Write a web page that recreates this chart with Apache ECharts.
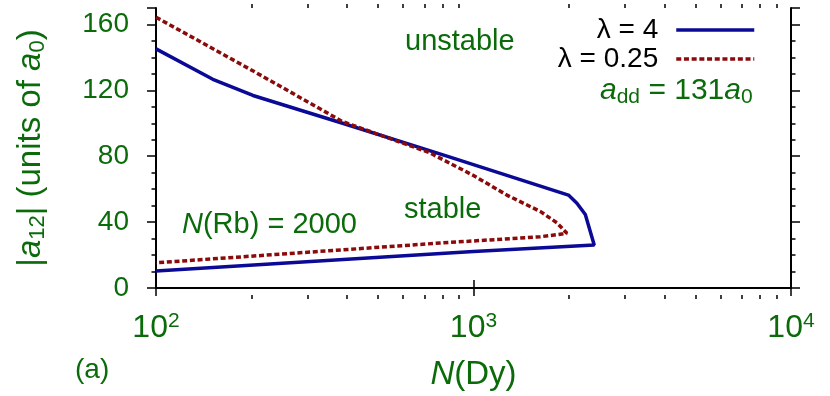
<!DOCTYPE html>
<html>
<head>
<meta charset="utf-8">
<script src="https://cdn.jsdelivr.net/npm/echarts@6/dist/echarts.min.js"></script>
<style>
  html, body { margin: 0; padding: 0; background: #fff; }
  #chart { width: 830px; height: 396px; }
</style>
</head>
<body>
<div id="chart"></div>
<script>
// λ = 4 : [N(Dy), |a12|]
const lambda4 = [
  [100, 145.2], [151, 126.7], [202, 116.9], [387, 100], [820, 80.2],
  [1991, 56.4], [2117, 51.5], [2250, 44.6], [2400, 26.1],
  [1000, 22.1], [100, 10.3]
]
// λ = 0.25
const lambda025 = [
  [100, 164.4], [207, 130.7], [387, 101], [726, 82.2], [1000, 68.3],
  [1274, 56.4], [1622, 46.5], [1831, 39.6], [1969, 33.2], [1945, 32.0],
  [1622, 31.1], [785, 27.3], [100, 15.3]
]
const xMinorTicks = [200, 300, 400, 500, 600, 700, 800, 900,
  2000, 3000, 4000, 5000, 6000, 7000, 8000, 9000]
const yTicks = { min: 0, max: 170, interval: 40 }

const green = '#0b6b0b'
const blue = '#0a0a96'
const red = '#8b0a0a'
const font = 'Liberation Sans, Arial, sans-serif'

const chart = echarts.init(document.getElementById('chart'))

const logBase = { type: 'log', logBase: 10, min: 100, max: 10000, splitLine: { show: false } }
const lineBlack = { color: '#000', width: 2 }
const tickBlack = { color: '#000', width: 1.5 }

const legendBase = {
  right: 74, align: 'right', padding: 0,
  itemWidth: 78, itemHeight: 14,
  itemStyle: { opacity: 0 },
  lineStyle: { width: 3.5 },
  textStyle: { fontFamily: font, fontSize: 28, color: '#000', padding: [0, 13, 0, 0] }
}

chart.setOption({
  animation: false,
  grid: [
    { left: 156, right: 39, top: 8, bottom: 101 },
    { left: 156, right: 39, top: 8, bottom: 101 }
  ],
  legend: [
    { ...legendBase, data: ['λ = 4'], top: 16 },
    { ...legendBase, data: ['λ = 0.25'], top: 45 }
  ],
  xAxis: [
    {
      ...logBase, gridIndex: 0, position: 'bottom',
      axisLine: { lineStyle: lineBlack },
      axisTick: { length: 8, lineStyle: tickBlack },
      axisLabel: {
        margin: 23,
        formatter: (v) => '10{s|' + Math.round(Math.log10(v)) + '}',
        fontFamily: font, fontSize: 32, color: green,
        rich: { s: { fontFamily: font, fontSize: 21, color: green, verticalAlign: 'top', padding: [0, 0, 14, 0] } }
      },
      name: '{i|N}(Dy)', nameLocation: 'middle', nameGap: 70,
      nameTextStyle: {
        fontFamily: font, fontSize: 33, color: green,
        rich: { i: { fontFamily: font, fontSize: 33, fontStyle: 'italic', color: green } }
      }
    },
    {
      ...logBase, gridIndex: 0, position: 'top',
      axisLine: { lineStyle: lineBlack },
      axisTick: { length: 8, lineStyle: tickBlack },
      axisLabel: { show: false }
    },
    {
      ...logBase, gridIndex: 1, position: 'bottom',
      axisLine: { show: false },
      axisTick: { length: 4, customValues: xMinorTicks, lineStyle: tickBlack },
      axisLabel: { show: false }
    },
    {
      ...logBase, gridIndex: 1, position: 'top',
      axisLine: { show: false },
      axisTick: { length: 4, customValues: xMinorTicks, lineStyle: tickBlack },
      axisLabel: { show: false }
    }
  ],
  yAxis: [
    {
      type: 'value', gridIndex: 0, position: 'left', ...yTicks,
      splitLine: { show: false },
      axisLine: { show: true, lineStyle: lineBlack },
      axisTick: { show: true, length: 9, lineStyle: tickBlack },
      minorTick: { show: true, splitNumber: 4, length: 4.5, lineStyle: tickBlack },
      axisLabel: { margin: 27, showMaxLabel: false, fontFamily: font, fontSize: 28, color: green },
      name: '|{i|a}{sub|12}| (units of {i|a}{sub|0})', nameLocation: 'middle', nameGap: 107,
      nameTextStyle: {
        fontFamily: font, fontSize: 33, color: green,
        rich: {
          i: { fontFamily: font, fontSize: 33, fontStyle: 'italic', color: green },
          sub: { fontFamily: font, fontSize: 22, color: green, verticalAlign: 'bottom', padding: [14, 0, 0, 0] }
        }
      }
    },
    {
      type: 'value', gridIndex: 0, position: 'right', ...yTicks,
      splitLine: { show: false },
      axisLine: { show: true, lineStyle: lineBlack },
      axisTick: { show: true, length: 9, lineStyle: tickBlack },
      minorTick: { show: true, splitNumber: 4, length: 4.5, lineStyle: tickBlack },
      axisLabel: { show: false }
    },
    { type: 'value', gridIndex: 1, ...yTicks, show: false }
  ],
  graphic: [
    { type: 'text', left: 405, top: 27, style: { text: 'unstable', fontFamily: font, fontSize: 29, fill: green } },
    { type: 'text', left: 404, top: 195, style: { text: 'stable', fontFamily: font, fontSize: 29, fill: green } },
    {
      type: 'text', left: 182, top: 210,
      style: {
        text: '{i|N}(Rb) = 2000', fontFamily: font, fontSize: 29, fill: green,
        rich: { i: { fontFamily: font, fontSize: 29, fontStyle: 'italic', fill: green } }
      }
    },
    {
      type: 'text', left: 600, top: 76,
      style: {
        text: '{i|a}{sub|dd} = 131{i|a}{sub|0}', fontFamily: font, fontSize: 30, fill: green,
        rich: {
          i: { fontFamily: font, fontSize: 30, fontStyle: 'italic', fill: green },
          sub: { fontFamily: font, fontSize: 21, fill: green, verticalAlign: 'bottom', padding: [12, 0, 0, 0] }
        }
      }
    },
    { type: 'text', left: 75, top: 356, style: { text: '(a)', fontFamily: font, fontSize: 28, fill: green } }
  ],
  series: [
    {
      name: 'λ = 4', type: 'line', xAxisIndex: 0, yAxisIndex: 0,
      data: lambda4, symbol: 'none',
      lineStyle: { color: blue, width: 3.5 }, itemStyle: { color: blue }
    },
    {
      name: 'λ = 0.25', type: 'line', xAxisIndex: 0, yAxisIndex: 0,
      data: lambda025, symbol: 'none',
      lineStyle: { color: red, width: 3.5, type: [5, 2.7] }, itemStyle: { color: red }
    }
  ]
})
</script>
</body>
</html>
